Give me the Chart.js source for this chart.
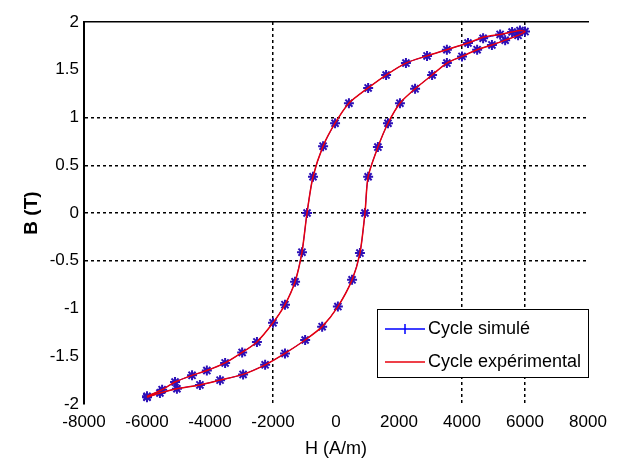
<!DOCTYPE html>
<html>
<head>
<meta charset="utf-8">
<script src="https://cdn.jsdelivr.net/npm/chart.js@4.4.1/dist/chart.umd.min.js"></script>
<style>
  html, body { margin: 0; padding: 0; background: #fff; overflow: hidden; }
  #wrap { width: 619px; height: 466px; }
</style>
</head>
<body>
<div id="wrap"><canvas id="myChart"></canvas></div>
<script>
// values: ascending branch first, then back down
let simH = [-6000, -5590, -5050, -4320, -3680, -2950, -2250, -1620, -980, -440, 60, 510, 760, 920,
    1020, 1330, 1650, 2030, 2510, 3050, 3520, 4000, 4480, 4950, 5370, 5780, 6000,
    5840, 5590, 5210, 4670, 4190, 3520, 2890, 2220, 1590, 1020, 410, -30, -410, -730, -920,
    -1080, -1300, -1620, -2000, -2510, -2980, -3520, -4100, -4570, -5110, -5520, -6000];
let simB = [-1.93, -1.885, -1.84, -1.80, -1.75, -1.69, -1.59, -1.47, -1.33, -1.19, -0.98, -0.70, -0.42, 0,
    0.38, 0.69, 0.94, 1.15, 1.30, 1.445, 1.57, 1.64, 1.71, 1.76, 1.81, 1.86, 1.90,
    1.91, 1.895, 1.87, 1.83, 1.78, 1.71, 1.645, 1.57, 1.445, 1.31, 1.15, 0.94, 0.70, 0.38, 0,
    -0.41, -0.72, -0.96, -1.15, -1.35, -1.46, -1.57, -1.65, -1.70, -1.77, -1.85, -1.92];

// the red (measured) loop sits right under the simulated one
let expH = [-6000, -5590, -5050, -4320, -3680, -2950, -2250, -1620, -980, -440, 60, 510, 760, 920,
    1020, 1330, 1650, 2030, 2510, 3050, 3520, 4000, 4480, 4950, 5370, 5780, 6000,
    5840, 5590, 5210, 4670, 4190, 3520, 2890, 2220, 1590, 1020, 410, -30, -410, -730, -920,
    -1080, -1300, -1620, -2000, -2510, -2980, -3520, -4100, -4570, -5110, -5520, -6000];
let expB = [-1.93, -1.885, -1.84, -1.80, -1.75, -1.69, -1.59, -1.47, -1.33, -1.19, -0.98, -0.70, -0.42, 0,
    0.38, 0.69, 0.94, 1.15, 1.30, 1.445, 1.57, 1.64, 1.71, 1.76, 1.81, 1.86, 1.90,
    1.91, 1.895, 1.87, 1.84, 1.78, 1.71, 1.645, 1.57, 1.445, 1.31, 1.15, 0.94, 0.70, 0.38, 0,
    -0.41, -0.72, -0.96, -1.15, -1.35, -1.46, -1.57, -1.65, -1.70, -1.77, -1.85, -1.92];

let xTicks = [-8000, -6000, -4000, -2000, 0, 2000, 4000, 6000, 8000];
let yTicks = [-2, -1.5, -1, -0.5, 0, 0.5, 1, 1.5, 2];
// only these grid lines survive in the picture
let xGrid = [-2000, 4000, 6000];
let yGrid = [-0.5, 0, 0.5, 1];

let seriesNames = ['Cycle simulé', 'Cycle expérimental'];
let xTitle = 'H (A/m)';
let yTitle = 'B (T)';

(function () {
    'use strict';

    let fam = "'Liberation Sans', Arial, sans-serif"
    let blue = '#0000ff'
    let red = '#e8000c'

    function toPts(hs, bs) {
        return hs.map((h, i) => ({ x: h, y: bs[i] }))
    }

    // legend with a box, bottom right inside the axes
    let boxLegend = {
        id: 'boxLegend',
        afterDraw(chart) {
            let ctx = chart.ctx
            let a = chart.chartArea
            let w = 211, h = 68
            let x0 = a.right - w, y0 = a.bottom - 95
            ctx.save()
            ctx.fillStyle = '#fff'
            ctx.fillRect(x0, y0, w, h)
            ctx.strokeStyle = '#000'
            ctx.lineWidth = 1
            ctx.strokeRect(x0 + 0.5, y0 + 0.5, w, h)

            let r1 = y0 + 20, r2 = y0 + 53
            ctx.lineWidth = 1.5
            ctx.strokeStyle = blue
            ctx.beginPath()
            ctx.moveTo(x0 + 8, r1); ctx.lineTo(x0 + 48, r1)
            ctx.moveTo(x0 + 28, r1 - 5); ctx.lineTo(x0 + 28, r1 + 5)
            ctx.stroke()
            ctx.strokeStyle = red
            ctx.beginPath()
            ctx.moveTo(x0 + 8, r2); ctx.lineTo(x0 + 48, r2)
            ctx.stroke()

            ctx.fillStyle = '#000'
            ctx.font = '18px ' + fam
            ctx.textBaseline = 'middle'
            ctx.textAlign = 'left'
            ctx.fillText(seriesNames[0], x0 + 51, r1)
            ctx.fillText(seriesNames[1], x0 + 51, r2)
            ctx.restore()
        }
    }

    let ctx = document.getElementById('myChart').getContext('2d')
    let chart = new Chart(ctx, {
        type: 'scatter',
        data: {
            datasets: [{
                label: seriesNames[0],
                data: toPts(simH, simB),
                showLine: true,
                tension: 0.25,
                borderColor: blue,
                borderWidth: 1,
                pointStyle: 'star',
                pointRadius: 5,
                pointBorderWidth: 2,
                pointBorderColor: '#2c10b8',
                pointBackgroundColor: blue,
                order: 1
            }, {
                label: seriesNames[1],
                data: toPts(expH, expB),
                showLine: true,
                tension: 0.25,
                borderColor: red,
                borderWidth: 1.5,
                pointRadius: 0,
                order: 0
            }]
        },
        options: {
            responsive: true,
            maintainAspectRatio: false,
            animation: false,
            layout: { padding: { left: 0, right: 31, top: 22, bottom: 0 } },
            plugins: {
                legend: { display: false },
                tooltip: { enabled: false }
            },
            scales: {
                x: {
                    type: 'linear',
                    position: 'bottom',
                    min: -8000,
                    max: 8000,
                    afterBuildTicks: s => { s.ticks = xTicks.map(v => ({ value: v })) },
                    afterFit: s => { s.height = 62 },
                    ticks: {
                        color: '#000',
                        font: { family: fam, size: 17 },
                        padding: 8,
                        maxRotation: 0,
                        autoSkip: false,
                        callback: v => String(v)
                    },
                    grid: {
                        drawTicks: false,
                        lineWidth: 1.5,
                        color: c => (c.tick && xGrid.includes(c.tick.value)) ? '#000' : 'rgba(0,0,0,0)'
                    },
                    border: { display: false, dash: [3, 3] },
                    title: {
                        display: true,
                        text: xTitle,
                        color: '#000',
                        font: { family: fam, size: 18 },
                        padding: { top: 0, bottom: 6 }
                    }
                },
                // only here to draw the top edge of the box
                xTop: {
                    type: 'linear',
                    position: 'top',
                    min: -8000,
                    max: 8000,
                    afterFit: s => { s.height = 0 },
                    ticks: { display: false },
                    grid: { display: false, drawTicks: false },
                    border: { display: true, color: '#000', width: 1.5 }
                },
                y: {
                    type: 'linear',
                    min: -2,
                    max: 2,
                    afterBuildTicks: s => { s.ticks = yTicks.map(v => ({ value: v })) },
                    afterFit: s => { s.width = 84 },
                    ticks: {
                        color: '#000',
                        font: { family: fam, size: 17 },
                        padding: 5,
                        autoSkip: false,
                        callback: v => String(v)
                    },
                    grid: {
                        drawTicks: false,
                        lineWidth: 1.5,
                        color: c => (c.tick && yGrid.includes(c.tick.value)) ? '#000' : 'rgba(0,0,0,0)'
                    },
                    border: { display: true, color: '#000', width: 2, dash: [3, 3] },
                    title: {
                        display: true,
                        text: yTitle,
                        color: '#000',
                        font: { family: fam, size: 19, weight: 'bold' },
                        padding: { top: 20, bottom: 0 }
                    }
                }
            }
        },
        plugins: [boxLegend]
    })
})();
</script>
</body>
</html>
